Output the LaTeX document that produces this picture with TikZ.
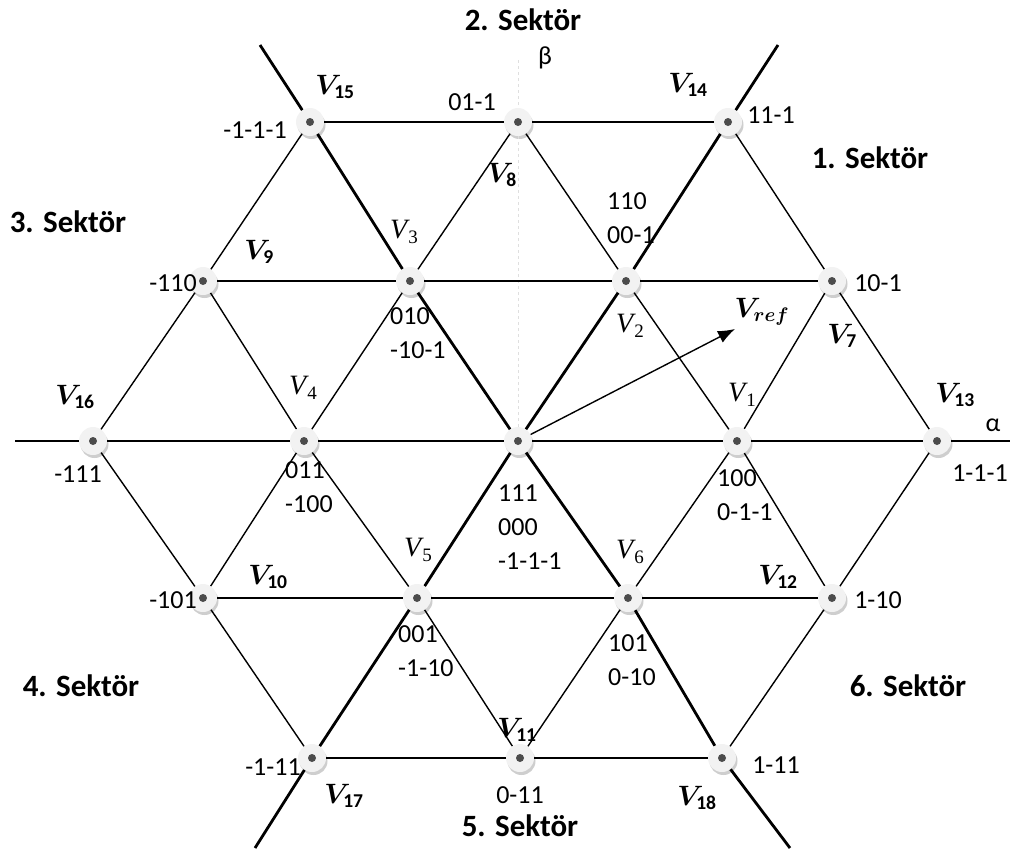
\RequirePackage{fix-cm}
\documentclass[tikz,border=0pt]{standalone}
\usepackage{fontspec,amsmath,bm}
\setmainfont{Carlito}
\newfontfamily\vserif{Liberation Serif}
\usetikzlibrary{arrows.meta,shadows}
\newcommand\vsub[1]{{\vserif\itshape V}\kern1pt\raisebox{-5pt}{\vserif\fontsize{19}{20}\selectfont #1}}
\tikzset{
  vtx/.style={circle,fill=gray!10,minimum size=28pt,inner sep=0pt,
    drop shadow={shadow xshift=1.5pt,shadow yshift=-3pt,fill=gray!55,opacity=.7},
    path picture={\fill[black!70] (path picture bounding box.center) circle (4pt);}},
  gridline/.style={line width=1.4pt},
  axisline/.style={line width=2.8pt},
  code/.style={align=left,inner sep=0pt,anchor=west},
  vlbl/.style={inner sep=0pt,font=\fontsize{28}{30}\selectfont},
  sektor/.style={inner sep=0pt,font=\fontsize{31}{34}\selectfont\bfseries}
}
\begin{document}
\begin{tikzpicture}[x=1pt,y=-1pt,>=Latex,font=\fontsize{26}{34}\selectfont]
\useasboundingbox (0,0) rectangle (1010,852);
\foreach \n/\x/\y in {v15/310/122,v8/518/122,v14/728/122,v9/203/281,v3/410/281,v2/626/281,v7/832/281,
  v16/93/441,v4/304/441,v0/518/441,v1/737/441,v13/937/441,v10/203/598,v5/417/598,v6/628/598,v12/832/598,
  v17/312/758,v11/520/758,v18/722/758}{
\node[vtx] (\n) at (\x,\y) {};}
\coordinate (ax1) at (15,441);\coordinate (ax2) at (1010,441);
\coordinate (da1) at (255,848);\coordinate (da2) at (778,45);
\coordinate (db1) at (260,45);\coordinate (db2) at (790,848);
\coordinate (bt) at (518,60);\coordinate (vt) at (735,329);
\draw[gray!25,dashed,line width=.8pt] (bt)--(v8)--(v0);
\foreach \a/\b in {v15/v8,v8/v14,v9/v3,v3/v2,v2/v7,v10/v5,v5/v6,v6/v12,v17/v11,v11/v18,
  v16/v9,v9/v15,v10/v4,v4/v3,v3/v8,v11/v6,v6/v1,v1/v7,v18/v12,v12/v13,
  v8/v2,v2/v1,v1/v12,v14/v7,v7/v13,v9/v4,v4/v5,v5/v11,v16/v10,v10/v17}
  \draw[gridline] (\a)--(\b);
\draw[axisline] (ax1)--(v16)--(v4)--(v0)--(v1)--(v13)--(ax2);
\draw[axisline] (da1)--(v17)--(v5)--(v0)--(v2)--(v14)--(da2);
\draw[axisline] (db1)--(v15)--(v3)--(v0)--(v6)--(v18)--(db2);
\draw[->,line width=1.4pt,>={Latex[length=17pt,width=13pt]}] (v0)--(vt);
\foreach \n/\x/\y/\t in {s2/523/20/2,s1/870/158/1,s3/68/222/3,s4/81/686/4,s6/908/686/6,s5/520/826/5}
  \node[sektor] (\n) at (\x,\y) {\t. Sektör};
\node[inner sep=0pt] (beta) at (545,58) {β};
\node[inner sep=0pt] (alpha) at (993,425) {α};
\foreach \n/\x/\y/\t in {c8/472/102/01-1,c15/255/130/-1-1-1,c14/771/115/11-1,c9/173/283/-110,c7/878/283/10-1,
  c16/78/474/-111,c13/980/473/1-1-1,c10/173/600/-101,c12/878/600/1-10,c17/273/767/-1-11,c11/520/795/0-11,c18/776/765/1-11}
  \node[inner sep=0pt] (\n) at (\x,\y) {\t};
\foreach \n/\x/\y/\t in {c2/607/218/{110\\00-1},c3/390/333/{010\\-10-1},c4/285/487/{011\\-100},
  c0/498/527/{111\\000\\-1-1-1},c1/717/495/{100\\0-1-1},c5/398/651/{001\\-1-10},c6/608/660/{101\\0-10}}
  \node[code] (\n) at (\x,\y) {\t};
\foreach \n/\x/\y/\t in {l15/335/87/15,l14/688/85/14,l8/502/175/8,l9/259/252/9,l7/842/336/7,l13/955/395/13,
  l16/75/397/16,l10/268/577/10,l12/778/577/12,l11/517/730/11,l17/344/796/17,l18/697/798/18}
  \node[vlbl] (\n) at (\x,\y) {$\bm{V}_{\mathbf{\t}}$};
\foreach \n/\x/\y/\t in {l1/742/395/1,l2/630/326/2,l3/404/232/3,l4/303/388/4,l5/418/550/5,l6/630/552/6}
  \node[vlbl] (\n) at (\x,\y) {\vsub{\t}};
\node[vlbl] (lref) at (762,312) {$\bm{V}_{\bm{ref}}$};
\end{tikzpicture}
\end{document}
